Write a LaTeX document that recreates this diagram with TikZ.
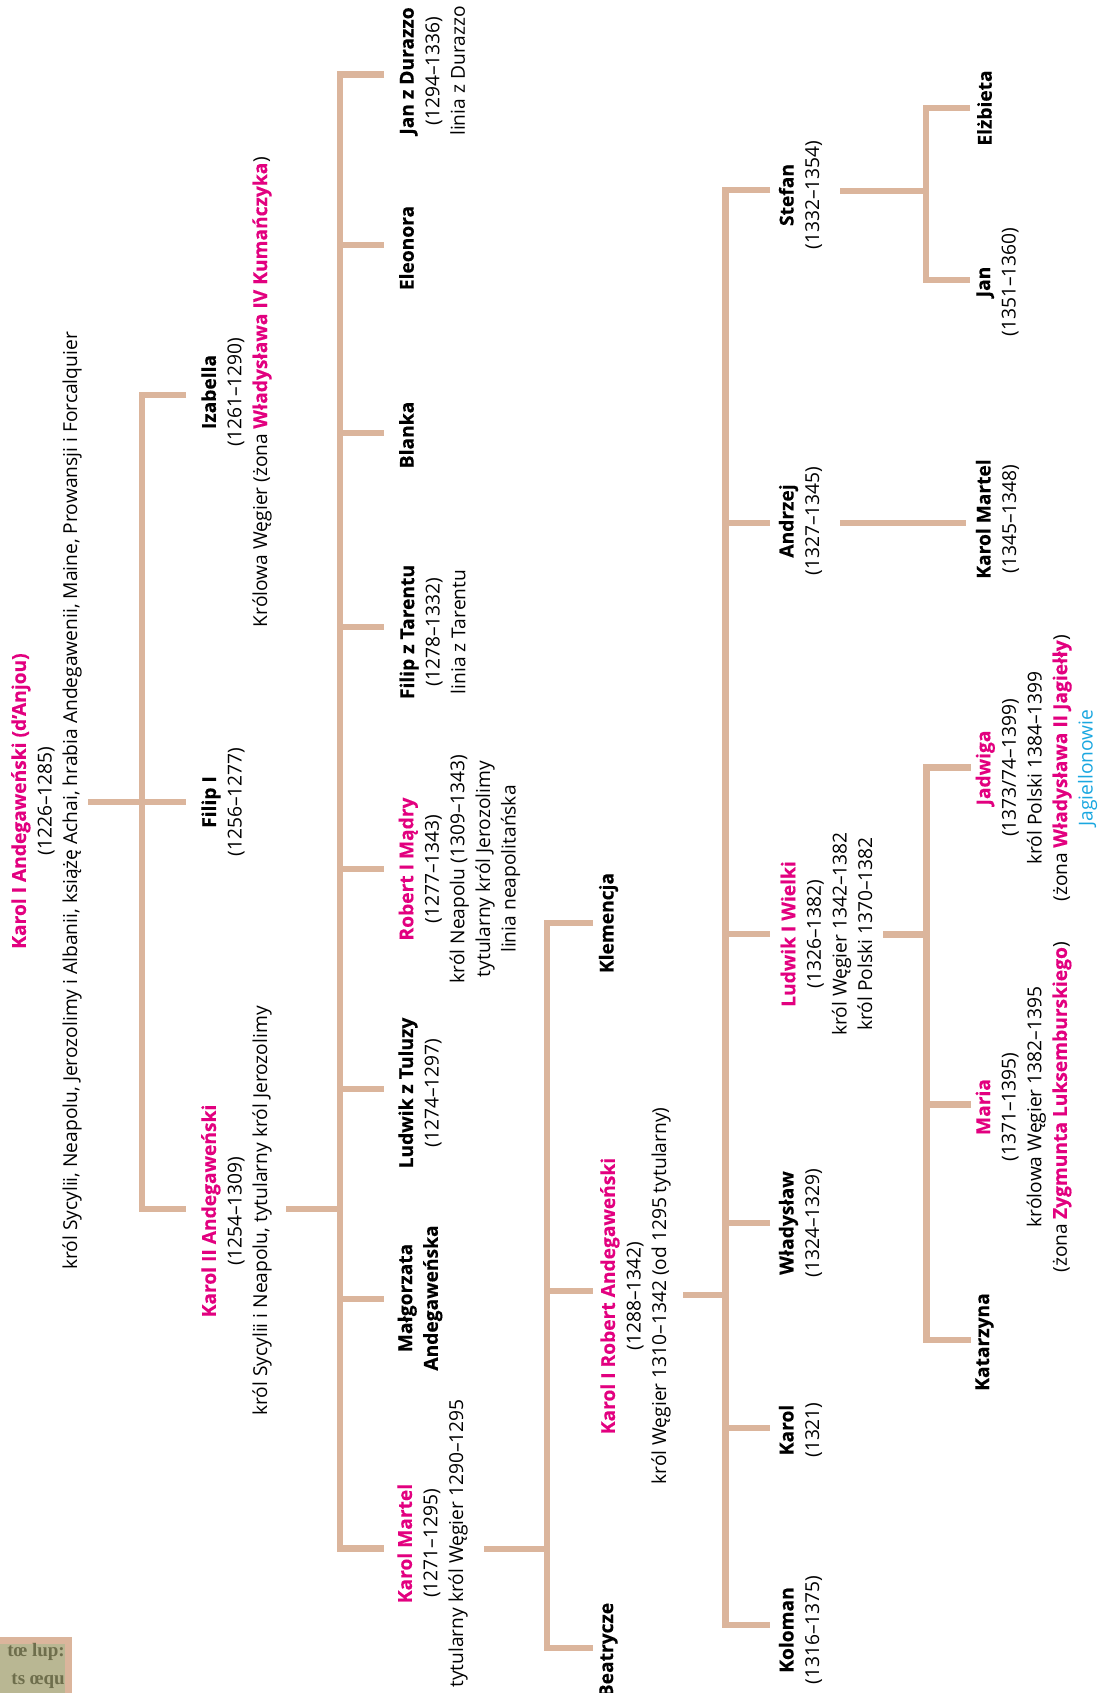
\documentclass[tikz,border=0pt]{standalone}
\usepackage{fontspec}
\setmainfont[BoldFeatures={FakeBold=0.35}]{Open Sans}
\newfontfamily\oldfont{Liberation Serif}
\definecolor{tan}{HTML}{DBB59C}
\definecolor{mag}{HTML}{E2007F}
\definecolor{jag}{HTML}{1AA7E0}
\definecolor{ink}{HTML}{6E6E4C}
\definecolor{parch}{HTML}{B9B793}
\newcommand{\pn}[1]{\textbf{\textcolor{mag}{#1}}}
\newcommand{\bn}[1]{\textbf{#1}}
\tikzset{
 rule/.style={draw=tan,line width=6.5pt,line cap=butt,line join=miter},
 person/.style={rotate=90,align=center,inner sep=0pt,font=\fontsize{19.2}{25.6}\selectfont,anchor=center},
 oldtext/.style={anchor=east,inner sep=0pt,text=ink,font=\oldfont\bfseries\fontsize{19}{19}\selectfont},
}
\begin{document}
\begin{tikzpicture}[x=1pt,y=-1pt]
\useasboundingbox (0,0) rectangle (1097,1693);
% corner picture
\begin{scope}
\clip (0,1637) rectangle (72,1693);
\fill[tan] (0,1637) rectangle (72,1693);
\fill[parch] (0,1644) rectangle (65,1693);
\node[oldtext] (pica) at (65,1652) {tœ lup:};
\node[oldtext] (picb) at (65,1681) {ts œqu};
\end{scope}
% coordinates
\coordinate (a0) at (88,802); \coordinate (a1) at (186,802);
\coordinate (a2) at (186,395); \coordinate (a3) at (142,395);
\coordinate (a4) at (142,1209); \coordinate (a5) at (186,1209);
\coordinate (b0) at (286,1209); \coordinate (b1) at (340,1209);
\coordinate (bt) at (384,74.5); \coordinate (bT) at (340,74.5);
\coordinate (bB) at (340,1548.5); \coordinate (bb) at (384,1548.5);
\coordinate (c0) at (484,1549); \coordinate (c1) at (547,1549);
\coordinate (ct) at (593,923); \coordinate (cT) at (547,923);
\coordinate (cB) at (547,1648); \coordinate (cb) at (593,1648);
\coordinate (cm) at (593,1291); \coordinate (cn) at (547,1291);
\coordinate (d0) at (683,1295); \coordinate (d1) at (725.5,1295);
\coordinate (dt) at (770,190); \coordinate (dT) at (725.5,190);
\coordinate (dB) at (725.5,1625); \coordinate (db) at (770,1625);
\coordinate (e0) at (883,934.5); \coordinate (e1) at (926.5,934.5);
\coordinate (et) at (970.5,767.5); \coordinate (eT) at (926.5,767.5);
\coordinate (eB) at (926.5,1340); \coordinate (eb) at (970.5,1340);
\coordinate (f0) at (840,523); \coordinate (f1) at (966,523);
\coordinate (g0) at (840,191); \coordinate (g1) at (926,191);
\coordinate (gt) at (970,108); \coordinate (gT) at (926,108);
\coordinate (gB) at (926,280); \coordinate (gb) at (970,280);
% branch stubs on the long bars
\foreach \n/\y in {b1/245,b2/433,b3/627,b4/869,b5/1089,b6/1299}{
 \coordinate (\n l) at (340,\y); \coordinate (\n r) at (384,\y);
 \draw[rule] (\n l) -- (\n r);}
\foreach \n/\y in {d2/523,d3/934,d4/1223,d5/1428}{
 \coordinate (\n l) at (725.5,\y); \coordinate (\n r) at (770,\y);
 \draw[rule] (\n l) -- (\n r);}
\coordinate (e2l) at (926.5,1104.5); \coordinate (e2r) at (970.5,1104.5);
\draw[rule] (e2l) -- (e2r);
\draw[rule] (cn) -- (cm);
% brackets
\draw[rule] (a0) -- (a1);
\draw[rule] (a2) -- (a3) -- (a4) -- (a5);
\draw[rule] (b0) -- (b1);
\draw[rule] (bt) -- (bT) -- (bB) -- (bb);
\draw[rule] (c0) -- (c1);
\draw[rule] (ct) -- (cT) -- (cB) -- (cb);
\draw[rule] (d0) -- (d1);
\draw[rule] (dt) -- (dT) -- (dB) -- (db);
\draw[rule] (e0) -- (e1);
\draw[rule] (et) -- (eT) -- (eB) -- (eb);
\draw[rule] (f0) -- (f1);
\draw[rule] (g0) -- (g1);
\draw[rule] (gt) -- (gT) -- (gB) -- (gb);
% people
\node[person] (karol1) at (46.5,801) {\pn{Karol I Andegaweński (d’Anjou)}\\(1226–1285)\\król Sycylii, Neapolu, Jerozolimy i Albanii, książę Achai, hrabia Andegawenii, Maine, Prowansji i Forcalquier};
\node[person] (karol2) at (236.5,1211) {\pn{Karol II Andegaweński}\\(1254–1309)\\król Sycylii i Neapolu, tytularny król Jerozolimy};
\node[person] (filip1) at (223,802) {\bn{Filip I}\\(1256–1277)};
\node[person] (izabella) at (236.5,392) {\bn{Izabella}\\(1261–1290)\\Królowa Węgier (żona \pn{Władysława IV Kumańczyka})};
\node[person] (martel) at (432.5,1543.5) {\pn{Karol Martel}\\(1271–1295)\\tytularny król Węgier 1290–1295};
\node[person] (malg) at (420,1298) {\bn{Małgorzata}\\\bn{Andegaweńska}};
\node[person] (ludwikt) at (420,1093) {\bn{Ludwik z Tuluzy}\\(1274–1297)};
\node[person] (robert) at (459.5,869) {\pn{Robert I Mądry}\\(1277–1343)\\król Neapolu (1309–1343)\\tytularny król Jerozolimy\\linia neapolitańska};
\node[person] (filipt) at (432.5,632) {\bn{Filip z Tarentu}\\(1278–1332)\\linia z Tarentu};
\node[person] (blanka) at (406.5,435) {\bn{Blanka}};
\node[person] (eleonora) at (406.5,248) {\bn{Eleonora}};
\node[person] (jand) at (432.5,71) {\bn{Jan z Durazzo}\\(1294–1336)\\linia z Durazzo};
\node[person] (klem) at (608.5,923) {\bn{Klemencja}};
\node[person] (robertk) at (635.5,1296) {\pn{Karol I Robert Andegaweński}\\(1288–1342)\\król Węgier 1310–1342 (od 1295 tytularny)};
\node[person] (beat) at (608.5,1650) {\bn{Beatrycze}};
\node[person] (kolo) at (800.5,1630) {\bn{Koloman}\\(1316–1375)};
\node[person] (karolk) at (800.5,1430) {\bn{Karol}\\(1321)};
\node[person] (wlad) at (800.5,1223) {\bn{Władysław}\\(1324–1329)};
\node[person] (ludw) at (826.5,934) {\pn{Ludwik I Wielki}\\(1326–1382)\\król Węgier 1342–1382\\król Polski 1370–1382};
\node[person] (andrz) at (800.5,521) {\bn{Andrzej}\\(1327–1345)};
\node[person] (stef) at (800.5,195) {\bn{Stefan}\\(1332–1354)};
\node[person] (kata) at (984.5,1342) {\bn{Katarzyna}};
\node[person] (maria) at (1023.5,1107) {\pn{Maria}\\(1371–1395)\\królowa Węgier 1382–1395\\(żona \pn{Zygmunta Luksemburskiego})};
\node[person] (jadw) at (1036.5,768) {\pn{Jadwiga}\\(1373/74–1399)\\król Polski 1384–1399\\(żona \pn{Władysława II Jagiełły})\\\textcolor{jag}{Jagiellonowie}};
\node[person] (martel2) at (997.5,519) {\bn{Karol Martel}\\(1345–1348)};
\node[person] (jan) at (997.5,282) {\bn{Jan}\\(1351–1360)};
\node[person] (elz) at (984.5,108) {\bn{Elżbieta}};
\end{tikzpicture}
\end{document}
